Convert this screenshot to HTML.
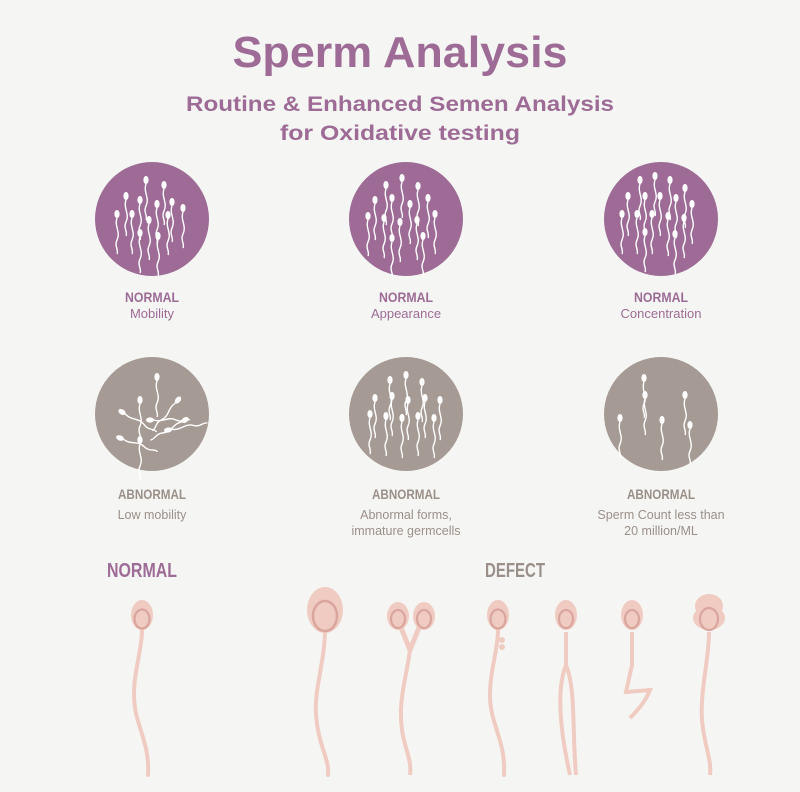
<!DOCTYPE html>
<html><head><meta charset="utf-8"><style>
html,body{margin:0;padding:0;background:#f5f6f3;}
svg{display:block;font-family:"Liberation Sans",sans-serif;}
</style></head><body>
<svg width="800" height="792" viewBox="0 0 800 792" xmlns="http://www.w3.org/2000/svg">
<defs>
<g id="ws">
<ellipse cx="0" cy="0" rx="2.6" ry="4" fill="#fff"/>
<path d="M0 4 C-3 12 4 18 0 26 C-3 32 2 36 0 40" stroke="#fff" stroke-width="1.4" fill="none"/>
</g>
<g id="pk">
<path d="M0 30 C0 50 -8 70 -8 95 C-8 125 8 140 6 175" stroke="#f0cbc1" stroke-width="4" fill="none" stroke-linecap="round"/>
<ellipse cx="0" cy="15" rx="11" ry="15" fill="#f0cbc1"/>
<ellipse cx="0" cy="19" rx="7.5" ry="9.5" fill="#f0cbc1" stroke="#d9a59d" stroke-width="2.2"/>
</g>
</defs>
<rect width="800" height="792" fill="#f5f6f3"/>
<text x="400" y="67" text-anchor="middle" font-size="44" font-weight="bold" fill="#9d6b96" textLength="335" lengthAdjust="spacingAndGlyphs">Sperm Analysis</text>
<text x="400" y="111" text-anchor="middle" font-size="21" font-weight="bold" fill="#9d6b96" textLength="428" lengthAdjust="spacingAndGlyphs">Routine &amp; Enhanced Semen Analysis</text>
<text x="400" y="140" text-anchor="middle" font-size="21" font-weight="bold" fill="#9d6b96" textLength="240" lengthAdjust="spacingAndGlyphs">for Oxidative testing</text>

<g fill="#9d6b96">
<circle cx="152" cy="219" r="57"/><circle cx="406" cy="219" r="57"/><circle cx="661" cy="219" r="57"/>
</g>
<g fill="#a59a94">
<circle cx="152" cy="414" r="57"/><circle cx="406" cy="414" r="57"/><circle cx="661" cy="414" r="57"/>
</g>
<g>
<use href="#ws" x="146" y="180"/><use href="#ws" x="164" y="185"/><use href="#ws" x="126" y="196"/><use href="#ws" x="140" y="200"/><use href="#ws" x="157" y="204"/><use href="#ws" x="172" y="202"/><use href="#ws" x="117" y="214"/><use href="#ws" x="132" y="214"/><use href="#ws" x="149" y="220"/><use href="#ws" x="168" y="215"/><use href="#ws" x="183" y="208"/><use href="#ws" x="140" y="233"/><use href="#ws" x="158" y="236"/>
<use href="#ws" x="386" y="185"/><use href="#ws" x="402" y="178"/><use href="#ws" x="418" y="186"/><use href="#ws" x="375" y="200"/><use href="#ws" x="392" y="198"/><use href="#ws" x="410" y="204"/><use href="#ws" x="428" y="198"/><use href="#ws" x="368" y="216"/><use href="#ws" x="384" y="218"/><use href="#ws" x="400" y="222"/><use href="#ws" x="417" y="220"/><use href="#ws" x="435" y="214"/><use href="#ws" x="392" y="238"/><use href="#ws" x="423" y="236"/>
<use href="#ws" x="640" y="180"/><use href="#ws" x="655" y="176"/><use href="#ws" x="670" y="180"/><use href="#ws" x="685" y="188"/><use href="#ws" x="628" y="196"/><use href="#ws" x="645" y="196"/><use href="#ws" x="660" y="196"/><use href="#ws" x="676" y="198"/><use href="#ws" x="692" y="204"/><use href="#ws" x="622" y="214"/><use href="#ws" x="637" y="214"/><use href="#ws" x="652" y="214"/><use href="#ws" x="668" y="216"/><use href="#ws" x="684" y="218"/><use href="#ws" x="645" y="232"/><use href="#ws" x="675" y="234"/>
</g>
<g>
<use href="#ws" x="157" y="377"/><use href="#ws" x="140" y="400"/><use href="#ws" x="122" y="412" transform="rotate(-60 122 412)"/><use href="#ws" x="178" y="400" transform="rotate(40 178 400)"/><use href="#ws" x="150" y="420" transform="rotate(-90 150 420)"/><use href="#ws" x="120" y="438" transform="rotate(-70 120 438)"/><use href="#ws" x="168" y="430" transform="rotate(-100 168 430)"/><use href="#ws" x="140" y="440"/><use href="#ws" x="185" y="420" transform="rotate(60 185 420)"/>
<use href="#ws" x="390" y="380"/><use href="#ws" x="406" y="375"/><use href="#ws" x="422" y="382"/><use href="#ws" x="375" y="398"/><use href="#ws" x="392" y="396"/><use href="#ws" x="408" y="400"/><use href="#ws" x="425" y="398"/><use href="#ws" x="440" y="400"/><use href="#ws" x="370" y="414"/><use href="#ws" x="386" y="416"/><use href="#ws" x="402" y="418"/><use href="#ws" x="418" y="416"/><use href="#ws" x="434" y="418"/>
<use href="#ws" x="644" y="378"/><use href="#ws" x="685" y="395"/><use href="#ws" x="645" y="395"/><use href="#ws" x="620" y="418"/><use href="#ws" x="662" y="420"/><use href="#ws" x="690" y="425"/>
</g>
<g text-anchor="middle">
<g font-weight="bold" font-size="14" fill="#9d6b96">
<text x="152" y="302" textLength="54" lengthAdjust="spacingAndGlyphs">NORMAL</text>
<text x="406" y="302" textLength="54" lengthAdjust="spacingAndGlyphs">NORMAL</text>
<text x="661" y="302" textLength="54" lengthAdjust="spacingAndGlyphs">NORMAL</text>
</g>
<g font-size="13" fill="#9d6b96">
<text x="152" y="318">Mobility</text><text x="406" y="318">Appearance</text><text x="661" y="318">Concentration</text>
</g>
<g font-weight="bold" font-size="14" fill="#9b8f89">
<text x="152" y="499" textLength="68" lengthAdjust="spacingAndGlyphs">ABNORMAL</text>
<text x="406" y="499" textLength="68" lengthAdjust="spacingAndGlyphs">ABNORMAL</text>
<text x="661" y="499" textLength="68" lengthAdjust="spacingAndGlyphs">ABNORMAL</text>
</g>
<g font-size="12.5" fill="#9b8f89">
<text x="152" y="519">Low mobility</text>
<text x="406" y="519">Abnormal forms,</text><text x="406" y="535">immature germcells</text>
<text x="661" y="519">Sperm Count less than</text><text x="661" y="535">20 million/ML</text>
</g>
</g>
<text x="142" y="577" text-anchor="middle" font-weight="bold" font-size="20" fill="#9d6b96" textLength="70" lengthAdjust="spacingAndGlyphs">NORMAL</text>
<text x="515" y="577" text-anchor="middle" font-weight="bold" font-size="20" fill="#9b8f89" textLength="60" lengthAdjust="spacingAndGlyphs">DEFECT</text>

<use href="#pk" x="142" y="600"/>
<g>
<path d="M325 630 C325 660 314 690 316 715 C318 745 330 760 328 775" stroke="#f0cbc1" stroke-width="4" fill="none" stroke-linecap="round"/>
<ellipse cx="325" cy="610" rx="18" ry="23" fill="#f0cbc1"/>
<ellipse cx="325" cy="616" rx="12" ry="15" fill="#f0cbc1" stroke="#d9a59d" stroke-width="2.5"/>
</g>
<g>
<path d="M400 625 L410 650 L420 625" stroke="#f0cbc1" stroke-width="5" fill="none"/>
<path d="M410 650 C406 680 398 700 402 730 C405 750 412 760 410 775" stroke="#f0cbc1" stroke-width="4" fill="none"/>
<ellipse cx="398" cy="616" rx="11" ry="14" fill="#f0cbc1"/><ellipse cx="398" cy="619" rx="7" ry="9" fill="#f0cbc1" stroke="#d9a59d" stroke-width="2.2"/>
<ellipse cx="424" cy="616" rx="11" ry="14" fill="#f0cbc1"/><ellipse cx="424" cy="619" rx="7" ry="9" fill="#f0cbc1" stroke="#d9a59d" stroke-width="2.2"/>
</g>
<use href="#pk" x="498" y="600"/>
<circle cx="502" cy="640" r="3" fill="#f0cbc1"/><circle cx="502" cy="647" r="3" fill="#f0cbc1"/>
<g>
<path d="M566 632 L566 665 C556 690 560 730 570 775 M566 665 C576 690 572 730 576 775" stroke="#f0cbc1" stroke-width="4" fill="none"/>
<ellipse cx="566" cy="615" rx="11" ry="15" fill="#f0cbc1"/><ellipse cx="566" cy="619" rx="7" ry="9" fill="#f0cbc1" stroke="#d9a59d" stroke-width="2.2"/>
</g>
<g>
<path d="M632 632 L632 665 L626 692 L650 690 C646 700 640 708 630 718" stroke="#f0cbc1" stroke-width="4" fill="none"/>
<ellipse cx="632" cy="615" rx="11" ry="15" fill="#f0cbc1"/><ellipse cx="632" cy="619" rx="7" ry="9" fill="#f0cbc1" stroke="#d9a59d" stroke-width="2.2"/>
</g>
<g>
<path d="M709 632 C709 660 700 690 702 720 C704 745 712 760 710 775" stroke="#f0cbc1" stroke-width="4" fill="none"/>
<ellipse cx="709" cy="606" rx="14" ry="12" fill="#f0cbc1"/><ellipse cx="709" cy="618" rx="16" ry="12" fill="#f0cbc1"/>
<ellipse cx="709" cy="619" rx="9" ry="11" fill="#f0cbc1" stroke="#d9a59d" stroke-width="2.2"/>
</g>
</svg>
</body></html>
